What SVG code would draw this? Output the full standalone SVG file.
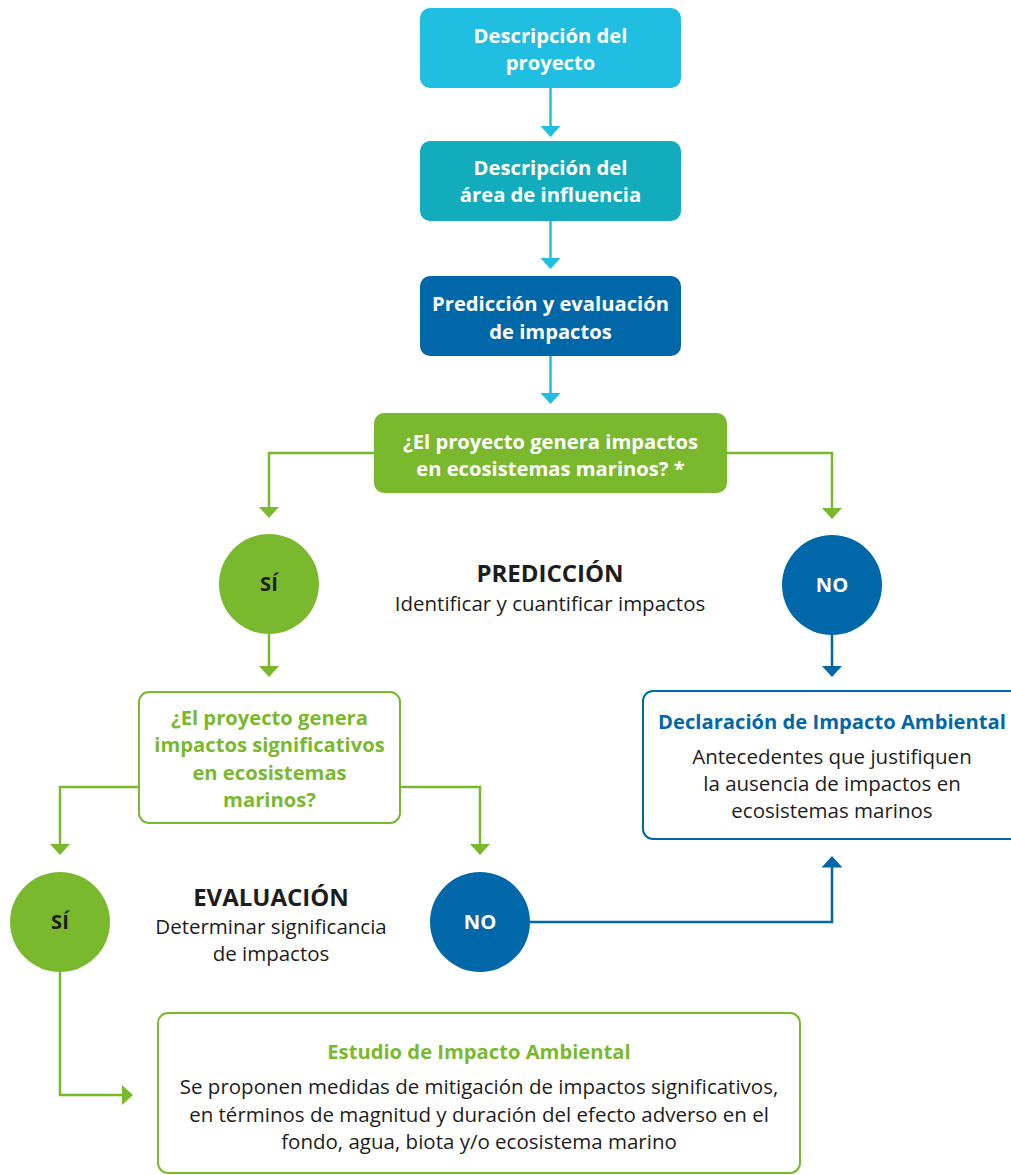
<svg xmlns="http://www.w3.org/2000/svg" width="1011" height="1175" viewBox="0 0 1011 1175">
<defs>
<style>
text{font-family:"Open Sans","Noto Sans","Liberation Sans",sans-serif;text-anchor:middle}
.b{font-weight:700;font-size:20.2px}
.w{fill:#fff}
.k{fill:#1d1d1b}
.r{font-weight:400;font-size:20.5px}
.h{font-weight:700;font-size:24px}
.gt{fill:#7ab92d}
.bt{fill:#0068a9}
.con{fill:none;stroke-width:2.5}
.cy{stroke:#20bee0}
.gr{stroke:#7ab92d}
.bl{stroke:#0068a9}
</style>
<marker id="ac" markerUnits="userSpaceOnUse" markerWidth="12" markerHeight="22" refX="6" refY="11" orient="auto"><path d="M0,0.5 L11.5,11 L0,21.5 z" fill="#20bee0"/></marker>
<marker id="ag" markerUnits="userSpaceOnUse" markerWidth="12" markerHeight="22" refX="6" refY="11" orient="auto"><path d="M0,0.5 L11.5,11 L0,21.5 z" fill="#7ab92d"/></marker>
<marker id="ab" markerUnits="userSpaceOnUse" markerWidth="12" markerHeight="22" refX="6" refY="11" orient="auto"><path d="M0,0.5 L11.5,11 L0,21.5 z" fill="#0068a9"/></marker>
</defs>
<rect width="1011" height="1175" fill="#fff"/>

<g id="connectors">
<path class="con cy" d="M550.5,88 V131.5" marker-end="url(#ac)"/>
<path class="con cy" d="M550.5,221 V263.5" marker-end="url(#ac)"/>
<path class="con cy" d="M550.5,356 V398.5" marker-end="url(#ac)"/>
<path class="con gr" d="M374,453 H269 V512.5" marker-end="url(#ag)"/>
<path class="con gr" d="M727,453 H832 V513.5" marker-end="url(#ag)"/>
<path class="con gr" d="M269,634 V671.5" marker-end="url(#ag)"/>
<path class="con bl" d="M832,635 V671.5" marker-end="url(#ab)"/>
<path class="con gr" d="M139,787 H60 V849.5" marker-end="url(#ag)"/>
<path class="con gr" d="M400,787 H480 V849.5" marker-end="url(#ag)"/>
<path class="con bl" d="M529,922 H832 V861.5" marker-end="url(#ab)"/>
<path class="con gr" d="M60,971 V1095 H127.5" marker-end="url(#ag)"/>
</g>

<g id="desc-proyecto">
<rect x="420" y="8" width="261" height="80" rx="10" fill="#20bee0"/>
<text class="b w" x="550.5" y="43">Descripción del</text>
<text class="b w" x="550.5" y="70">proyecto</text>
</g>

<g id="desc-area">
<rect x="420" y="141" width="261" height="80" rx="10" fill="#13acbd"/>
<text class="b w" x="550.5" y="175">Descripción del</text>
<text class="b w" x="550.5" y="202">área de influencia</text>
</g>

<g id="prediccion-evaluacion">
<rect x="420" y="276" width="261" height="80" rx="10" fill="#0068a9"/>
<text class="b w" x="550.5" y="311">Predicción y evaluación</text>
<text class="b w" x="550.5" y="339">de impactos</text>
</g>

<g id="pregunta-impactos">
<rect x="374" y="413" width="353" height="80" rx="10" fill="#7ab92d"/>
<text class="b w" x="550.5" y="449">¿El proyecto genera impactos</text>
<text class="b w" x="550.5" y="476">en ecosistemas marinos? *</text>
</g>

<g id="si-1">
<circle cx="269" cy="584" r="50" fill="#7ab92d"/>
<text class="b k" x="269" y="591">SÍ</text>
</g>

<g id="no-1">
<circle cx="832" cy="585" r="50" fill="#0068a9"/>
<text class="b w" x="832" y="592">NO</text>
</g>

<g id="prediccion-label">
<text class="h k" x="550" y="582">PREDICCIÓN</text>
<text class="r k" x="550" y="611">Identificar y cuantificar impactos</text>
</g>

<g id="pregunta-significativos">
<rect x="139" y="692" width="261" height="131" rx="10" fill="#fff" stroke="#7ab92d" stroke-width="2"/>
<text class="b gt" x="269.5" y="725">¿El proyecto genera</text>
<text class="b gt" x="269.5" y="752">impactos significativos</text>
<text class="b gt" x="269.5" y="780">en ecosistemas</text>
<text class="b gt" x="269.5" y="807">marinos?</text>
</g>

<g id="dia">
<rect x="643" y="691" width="380" height="148" rx="10" fill="#fff" stroke="#0068a9" stroke-width="2"/>
<text class="b bt" x="832" y="729">Declaración de Impacto Ambiental</text>
<text class="r k" x="832" y="764">Antecedentes que justifiquen</text>
<text class="r k" x="832" y="791">la ausencia de impactos en</text>
<text class="r k" x="832" y="818">ecosistemas marinos</text>
</g>

<g id="si-2">
<circle cx="60" cy="922" r="50" fill="#7ab92d"/>
<text class="b k" x="60" y="929">SÍ</text>
</g>

<g id="no-2">
<circle cx="480" cy="922" r="50" fill="#0068a9"/>
<text class="b w" x="480" y="929">NO</text>
</g>

<g id="evaluacion-label">
<text class="h k" x="271" y="906">EVALUACIÓN</text>
<text class="r k" x="271" y="934">Determinar significancia</text>
<text class="r k" x="271" y="961">de impactos</text>
</g>

<g id="eia">
<rect x="158" y="1013" width="642" height="160" rx="10" fill="#fff" stroke="#7ab92d" stroke-width="2"/>
<text class="b gt" x="479" y="1059">Estudio de Impacto Ambiental</text>
<text class="r k" x="479" y="1094">Se proponen medidas de mitigación de impactos significativos,</text>
<text class="r k" x="479" y="1122">en términos de magnitud y duración del efecto adverso en el</text>
<text class="r k" x="479" y="1149">fondo, agua, biota y/o ecosistema marino</text>
</g>
</svg>
